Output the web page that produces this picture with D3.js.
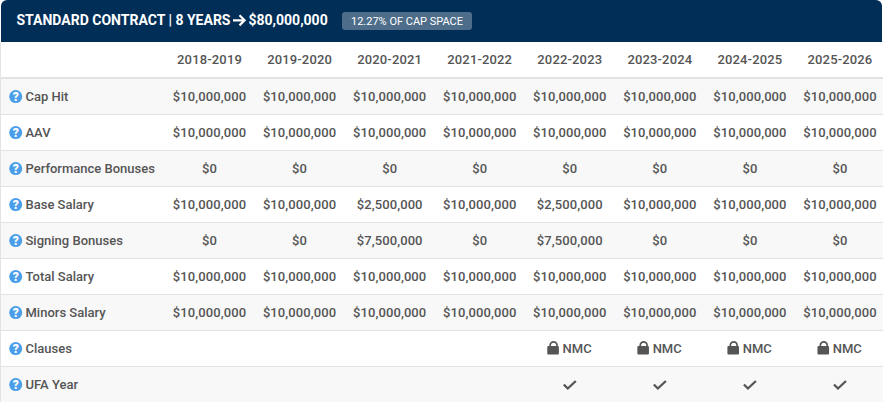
<!DOCTYPE html>
<html><head><meta charset="utf-8">
<script src="https://cdn.jsdelivr.net/npm/d3@7"></script>
<style>html,body{margin:0;padding:0;background:#fff;overflow:hidden}svg{display:block}text{font-family:Roboto,sans-serif}</style>
</head><body><svg id="c" width="883" height="402"></svg>
<script>
const title = "STANDARD CONTRACT | 8 YEARS";
const titleAmount = "$80,000,000";
const badge = "12.27% OF CAP SPACE";
const seasons = ["2018-2019","2019-2020","2020-2021","2021-2022","2022-2023","2023-2024","2024-2025","2025-2026"];
const rowLabels = ["Cap Hit","AAV","Performance Bonuses","Base Salary","Signing Bonuses","Total Salary","Minors Salary","Clauses","UFA Year"];
const M = "$10,000,000";
const capHit = [M,M,M,M,M,M,M,M];
const aav = [M,M,M,M,M,M,M,M];
const perfBonus = ["$0","$0","$0","$0","$0","$0","$0","$0"];
const baseSalary = [M,M,"$2,500,000",M,"$2,500,000",M,M,M];
const signBonus = ["$0","$0","$7,500,000","$0","$7,500,000","$0","$0","$0"];
const totalSalary = [M,M,M,M,M,M,M,M];
const minorsSalary = [M,M,M,M,M,M,M,M];
const clauses = ["","","","","NMC","NMC","NMC","NMC"];
const ufaYear = [0,0,0,0,1,1,1,1];
const rows = [capHit,aav,perfBonus,baseSalary,signBonus,totalSalary,minorsSalary,clauses,ufaYear];

const svg = d3.select("#c");
const W = 883, H = 402;
const x = d3.scaleBand().domain(seasons).range([164.5, 885]).paddingInner(0).paddingOuter(0);
const y = d3.scaleBand().domain(rowLabels).range([79, 403]);
const textCol = "#555";

svg.append("rect").attr("width",W).attr("height",H).attr("fill","#fff");
svg.append("path").attr("fill","#012e57")
  .attr("d",`M1,42V6a6,6 0 0 1 6,-6H${W-7}a6,6 0 0 1 6,6V42Z`);
const t = svg.append("text").attr("x",16.5).attr("y",25).attr("fill","#fff")
  .attr("font-size",14).attr("font-weight",700).text(title);
const tw = t.node().getComputedTextLength();
const ax = 16.5+tw+2.5;
svg.append("path").attr("fill","none").attr("stroke","#fff").attr("stroke-width",2.2)
  .attr("d",`M${ax},20.3H${ax+11}M${ax+6.5},15.2L${ax+11.6},20.3L${ax+6.5},25.4`);
svg.append("text").attr("x",ax+15.5).attr("y",25).attr("fill","#fff").attr("font-size",14).attr("font-weight",700).text(titleAmount);
svg.append("rect").attr("x",342).attr("y",12).attr("width",130).attr("height",18).attr("rx",3).attr("fill","#4d6d8a");
svg.append("text").attr("x",407).attr("y",25).attr("text-anchor","middle").attr("fill","#fff").attr("font-size",11).text(badge);

svg.append("line").attr("x1",0.5).attr("x2",0.5).attr("y1",42).attr("y2",H).attr("stroke","#e4e4e4");

svg.append("g").selectAll("text").data(seasons).join("text")
  .attr("x",d=>x(d)+x.bandwidth()/2).attr("y",64).attr("text-anchor","middle")
  .attr("fill",textCol).attr("font-size",13).attr("font-weight",500).attr("letter-spacing",0.15).text(d=>d);

svg.append("rect").attr("x",1).attr("y",77).attr("width",W).attr("height",2).attr("fill","#e2e2e2");

const rg = svg.append("g").selectAll("g").data(rowLabels).join("g")
  .attr("transform",d=>`translate(0,${y(d)})`);
rg.append("rect").attr("x",1).attr("width",W).attr("height",y.bandwidth())
  .attr("fill",(d,i)=>i%2===0?"#f8f8f8":"#fff");
rg.append("line").attr("x1",1).attr("x2",W).attr("y1",y.bandwidth()-0.5).attr("y2",y.bandwidth()-0.5)
  .attr("stroke","#e2e2e2");
rg.append("circle").attr("cx",15.7).attr("cy",17.6).attr("r",6.5).attr("fill","#4a9eea");
rg.append("text").attr("x",15.7).attr("y",22).attr("text-anchor","middle").attr("fill","#fff")
  .attr("font-size",12).attr("font-weight",900).text("?");
rg.append("text").attr("x",25.5).attr("y",22).attr("fill",textCol)
  .attr("font-size",13).attr("font-weight",500).text(d=>d);

rg.each(function(lab,i){
  const g = d3.select(this);
  const vals = rows[i];
  seasons.forEach((s,j)=>{
    const cx = x(s)+x.bandwidth()/2, v = vals[j];
    if(lab==="Clauses"){
      if(!v) return;
      const lx = cx-22.5;
      g.append("path").attr("fill",textCol).attr("d",
        `M${lx},16a1,1 0 0 1 1,-1h9.6a1,1 0 0 1 1,1v6.5a1,1 0 0 1 -1,1h-9.6a1,1 0 0 1 -1,-1Z`);
      g.append("path").attr("fill","none").attr("stroke",textCol).attr("stroke-width",1.7).attr("d",
        `M${lx+2.9},15.5v-1.2a3.4,3.4 0 0 1 6.8,0v1.2`);
      g.append("text").attr("x",lx+15.3).attr("y",22).attr("fill",textCol)
        .attr("font-size",13).attr("font-weight",500).text(v);
    } else if(lab==="UFA Year"){
      if(!v) return;
      g.append("path").attr("fill","none").attr("stroke",textCol).attr("stroke-width",2.3).attr("d",
        `M${cx-6},17.5l4,4l8,-7.5`);
    } else {
      g.append("text").attr("x",cx).attr("y",22).attr("text-anchor","middle").attr("fill",textCol)
        .attr("font-size",13).attr("font-weight",500).attr("letter-spacing",0.1).text(v);
    }
  });
});
</script></body></html>
